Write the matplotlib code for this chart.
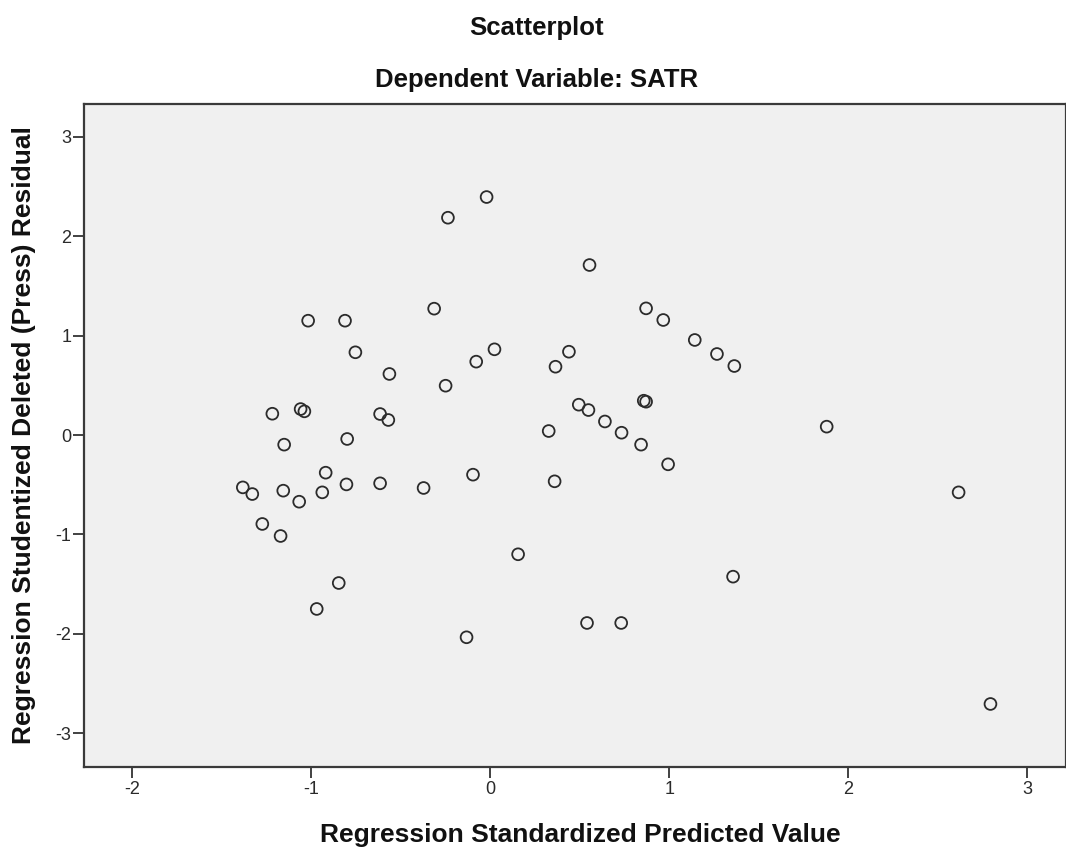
import matplotlib
matplotlib.use("Agg")
import matplotlib.pyplot as plt

plt.rcParams['font.family'] = ['Liberation Sans', 'DejaVu Sans']

predicted = [
    -0.021, -0.237, -0.314, -1.018, -0.812, -0.754, -0.564, -0.250, -0.079, 0.023,
    -1.218, -1.060, -1.039, -0.616, -0.570,
    0.554, 0.870, 0.966, 1.142, 1.266, 1.363, 0.439, 0.364, 0.857, 0.870, 0.494, 0.548, 0.640,
    0.326, 0.733, 0.842, 0.993, 1.879, 0.359, 2.616, 1.356, 0.540, 0.731, 2.794,
    -1.152, -0.800, -0.920, -1.383, -1.330, -1.157, -1.068, -0.939, -0.804, -0.616,
    -0.373, -0.097, -1.274, -1.172, 0.155, -0.847, -0.970, -0.133,
]
residual = [
    2.394, 2.186, 1.271, 1.150, 1.150, 0.832, 0.614, 0.496, 0.738, 0.862,
    0.214, 0.261, 0.238, 0.211, 0.151,
    1.710, 1.274, 1.157, 0.956, 0.815, 0.694, 0.838, 0.687, 0.345, 0.335, 0.305, 0.251, 0.136,
    0.040, 0.023, -0.097, -0.295, 0.084, -0.466, -0.577, -1.425, -1.891, -1.891, -2.706,
    -0.097, -0.040, -0.379, -0.527, -0.594, -0.560, -0.671, -0.577, -0.497, -0.486,
    -0.533, -0.399, -0.895, -1.016, -1.200, -1.489, -1.750, -2.035,
]

title_main = "Scatterplot"
title_sub = "Dependent Variable: SATR"
xlabel = "Regression Standardized Predicted Value"
ylabel = "Regression Studentized Deleted (Press) Residual"
xticks = [-2, -1, 0, 1, 2, 3]
yticks = [-3, -2, -1, 0, 1, 2, 3]

W, H = 1066, 849
fig = plt.figure(figsize=(W / 100, H / 100), dpi=100)
ax = fig.add_axes([84.4 / W, (H - 766.7) / H, 1 - 84.4 / W, (766.7 - 104) / H])
ax.set_facecolor('#f0f0f0')

ax.scatter(predicted, residual, s=72, facecolors='none', edgecolors='#2b2b2b', linewidths=1.3, zorder=3)

ax.set_xlim(-2.268, 3.216)
ax.set_ylim(-3.337, 3.33)
ax.set_xticks(xticks)
ax.set_yticks(yticks)
ax.set_xticklabels([str(t) for t in xticks])
ax.set_yticklabels([str(t) for t in yticks])
ax.tick_params(direction='out', length=8, width=1.3, color='#333333', labelsize=13, labelcolor='#2a2a2a')
ax.tick_params(axis='x', pad=2)
ax.tick_params(axis='y', pad=1.5)

for sp in ax.spines.values():
    sp.set_color('#3a3a3a')
    sp.set_linewidth(1.6)

fig.text(536.5 / W, 1 - 35 / H, title_main, ha='center', va='baseline', fontsize=18.5, fontweight='bold', color='#111111')
fig.text(536.5 / W, 1 - 87 / H, title_sub, ha='center', va='baseline', fontsize=18.5, fontweight='bold', color='#111111')
fig.text(580 / W, 1 - 842 / H, xlabel, ha='center', va='baseline', fontsize=19, fontweight='bold', color='#111111')
fig.text(24 / W, 1 - 435 / H, ylabel, ha='center', va='center', rotation=90, fontsize=19, fontweight='bold', color='#111111')

fig.savefig('out.png', dpi=100, facecolor='white')
